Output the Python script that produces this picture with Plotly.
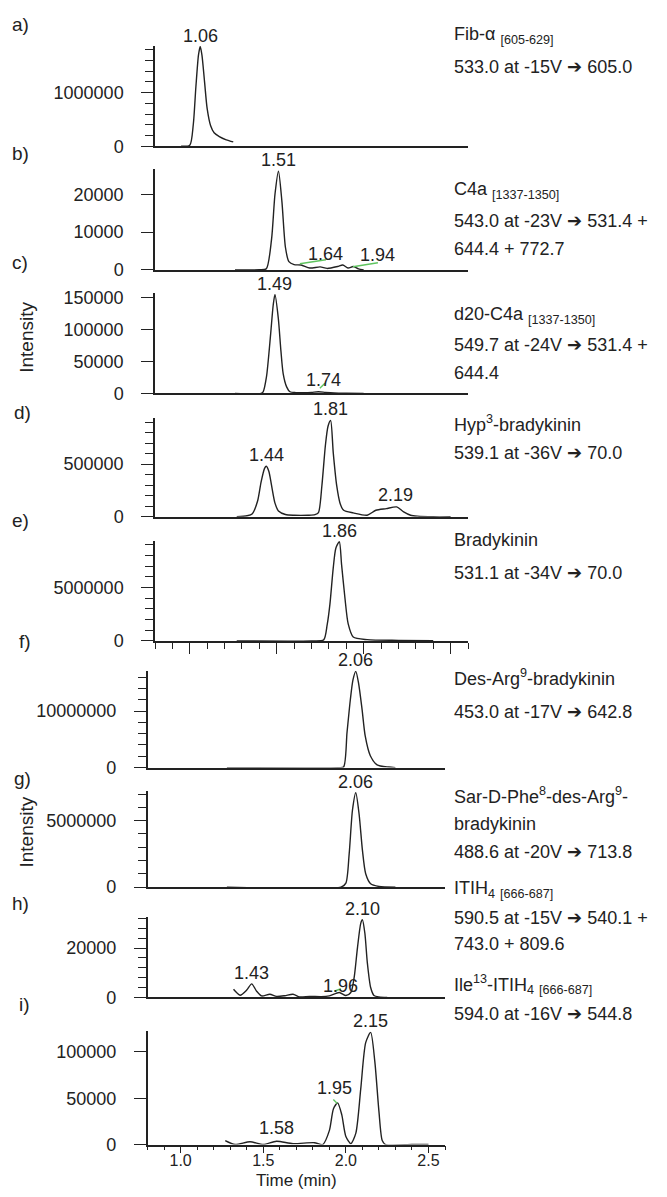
import plotly.graph_objects as go

W, H = 667, 1197
FONT = "Arial, 'Liberation Sans', Helvetica, sans-serif"
INK = "#222222"
GREEN = "#5fc45f"

# ---------------- data ----------------
A_TIME = [0.95, 1.00, 1.02, 1.035, 1.05, 1.06, 1.07, 1.085, 1.10, 1.12, 1.14, 1.17, 1.21, 1.25]
A_INT = [0, 20000, 400000, 1100000, 1700000, 1860000, 1700000, 1200000, 700000, 380000, 250000, 180000, 120000, 80000]

B_TIME = [1.26, 1.40, 1.44, 1.47, 1.49, 1.51, 1.53, 1.55, 1.57, 1.60, 1.64, 1.69, 1.75, 1.79, 1.85, 1.88, 1.91, 1.94, 1.97, 2.00]
B_INT = [0, 50, 300, 8000, 20000, 26100, 18000, 6000, 2200, 1400, 1300, 500, 800, 400, 900, 1300, 500, 900, 300, 0]

C_TIME = [1.26, 1.41, 1.422, 1.441, 1.465, 1.48, 1.49, 1.509, 1.524, 1.537, 1.557, 1.576, 1.61, 1.66, 1.70, 1.74, 1.78, 1.83, 1.90, 2.00]
C_INT = [0, 0, 2500, 25700, 93000, 139000, 155000, 118000, 67000, 31000, 10200, 2500, 1200, 1000, 1500, 2500, 1500, 600, 200, 0]

D_TIME = [1.27, 1.33, 1.36, 1.39, 1.41, 1.43, 1.44, 1.455, 1.47, 1.49, 1.51, 1.55, 1.60, 1.68, 1.72, 1.74, 1.76, 1.78, 1.795, 1.81,
          1.825, 1.845, 1.865, 1.885, 1.94, 2.02, 2.07, 2.13, 2.19, 2.23, 2.27, 2.31, 2.40, 2.50]
D_INT = [0, 10000, 30000, 150000, 330000, 460000, 480000, 430000, 300000, 130000, 55000, 22000, 15000, 15000, 20000, 40000, 300000,
         680000, 860000, 915000, 610000, 296000, 125000, 62000, 37000, 15000, 62000, 78000, 94000, 47000, 15000, 6000, 0, 0]

E_TIME = [1.27, 1.70, 1.77, 1.79, 1.806, 1.825, 1.84, 1.86, 1.873, 1.892, 1.911, 1.94, 2.02, 2.20, 2.40]
E_INT = [0, 0, 100000, 1500000, 3450000, 6850000, 8700000, 9300000, 7160000, 4070000, 1600000, 370000, 120000, 50000, 20000]

F_TIME = [1.28, 1.95, 1.986, 2.007, 2.027, 2.043, 2.06, 2.077, 2.098, 2.117, 2.148, 2.189, 2.26, 2.30]
F_INT = [0, 0, 100000, 6200000, 12000000, 15500000, 17000000, 14900000, 10300000, 5600000, 2100000, 500000, 100000, 0]

G_TIME = [1.28, 1.97, 2.00, 2.02, 2.04, 2.06, 2.08, 2.10, 2.12, 2.15, 2.20, 2.30]
G_INT = [0, 0, 300000, 2500000, 5800000, 7100000, 5500000, 2800000, 1000000, 250000, 50000, 0]

H_TIME = [1.32, 1.36, 1.40, 1.43, 1.46, 1.49, 1.54, 1.58, 1.63, 1.68, 1.72, 1.78, 1.85, 1.90, 1.96, 2.00, 2.03, 2.05, 2.07,
          2.09, 2.10, 2.115, 2.13, 2.15, 2.17, 2.20, 2.25]
H_INT = [3300, 900, 3000, 5500, 2500, 600, 1300, 400, 700, 1300, 200, 400, 300, 600, 2000, 800, 2000, 8000, 20000,
         30000, 31500, 26000, 14000, 4000, 800, 200, 0]

I_TIME = [1.27, 1.33, 1.42, 1.50, 1.58, 1.68, 1.81, 1.86, 1.90, 1.925, 1.95, 1.975, 2.00, 2.03, 2.06, 2.09, 2.12, 2.15,
          2.175, 2.20, 2.22, 2.24, 2.40, 2.50]
I_INT = [4300, 0, 3000, 0, 3500, 1000, 2000, 0, 15000, 38700, 45000, 32300, 8700, 1000, 12000, 60000, 110000, 121000,
         90000, 36000, 4300, 0, 0, 0]

PANEL_TAGS = ["a)", "b)", "c)", "d)", "e)", "f)", "g)", "h)", "i)"]

# main peak labels: (panel, retention time, intensity at apex)
PEAK_PANEL = [0, 1, 2, 3, 3, 4, 5, 6, 7, 8]
PEAK_TIME = [1.06, 1.51, 1.49, 1.44, 1.81, 1.86, 2.06, 2.06, 2.10, 2.15]
PEAK_INT = [1860000, 26100, 155000, 480000, 915000, 9300000, 17000000, 7100000, 31500, 121000]
PEAK_TEXT = ["1.06", "1.51", "1.49", "1.44", "1.81", "1.86", "2.06", "2.06", "2.10", "2.15"]

# minor peak labels (panel, label centre time, label centre intensity)
MINOR_PANEL = [1, 1, 2, 3, 7, 7, 8, 8]
MINOR_TEXT = ["1.64", "1.94", "1.74", "2.19", "1.43", "1.96", "1.58", "1.95"]
MINOR_TIME = [1.783, 2.079, 1.771, 2.185, 1.43, 1.966, 1.578, 1.93]
MINOR_INT = [4250, 4000, 20600, 204000, 9800, 4800, 18200, 60600]

# green baseline markers (panel, t0, t1, v0, v1)
GREEN_PANEL = [1, 1, 2, 7, 8]
GREEN_T0 = [1.633, 1.938, 1.748, 1.93, 1.924]
GREEN_T1 = [1.783, 2.082, 1.777, 1.97, 1.948]
GREEN_V0 = [1640, 860, 8200, 2500, 48500]
GREEN_V1 = [2690, 1900, 16000, 3500, 44400]

ARROW = "<span style='font-family:DejaVu Sans'>➔</span>"
RIGHT_TEXT = [
    ["Fib-α <sub>[605-629]</sub>", f"533.0 at -15V {ARROW} 605.0"],
    ["C4a <sub>[1337-1350]</sub>", f"543.0 at -23V {ARROW} 531.4 +", "644.4 + 772.7"],
    ["d20-C4a <sub>[1337-1350]</sub>", f"549.7 at -24V {ARROW} 531.4 +", "644.4"],
    ["Hyp<sup>3</sup>-bradykinin", f"539.1 at -36V {ARROW} 70.0"],
    ["Bradykinin", f"531.1 at -34V {ARROW} 70.0"],
    ["Des-Arg<sup>9</sup>-bradykinin", f"453.0 at -17V {ARROW} 642.8"],
    ["Sar-D-Phe<sup>8</sup>-des-Arg<sup>9</sup>-", "bradykinin", f"488.6 at -20V {ARROW} 713.8"],
    ["ITIH<sub>4</sub> <sub>[666-687]</sub>", f"590.5 at -15V {ARROW} 540.1 +", "743.0 + 809.6"],
    ["Ile<sup>13</sup>-ITIH<sub>4</sub> <sub>[666-687]</sub>", f"594.0 at -16V {ARROW} 544.8"],
]

YMAX = [1870000, 26600, 157000, 935000, 9400000, 17100000, 7200000, 32500, 122000]
YDTICK = [1000000, 10000, 50000, 500000, 5000000, 10000000, 5000000, 20000, 50000]
YMINOR = [200000, None, None, 100000, 1000000, 2000000, 1000000, 4000, None]

# ---------------- layout geometry (pixels) ----------------
ZERO_PX = [143, 268.3, 393.3, 518.3, 644, 772.3, 893.3, 1005, 1154]
TOP_PX = [41.5, 166.4, 291.9, 418.6, 542.5, 674.3, 796.4, 923.8, 1039.5]
TAG_PX = [(10, 20), (10, 150), (10, 261), (12, 413), (10, 522), (17, 645), (12, 783), (10, 910), (17, 1012)]
TEXT_Y_PX = [[30, 61], [187, 217, 246], [313, 343, 372], [423, 452], [541, 574], [680, 714],
             [800, 828, 856], [895, 923, 950], [991, 1020]]
X_TOP = (155, 468)
X_BOT = (147.6, 445)

series = [(A_TIME, A_INT), (B_TIME, B_INT), (C_TIME, C_INT), (D_TIME, D_INT), (E_TIME, E_INT),
          (F_TIME, F_INT), (G_TIME, G_INT), (H_TIME, H_INT), (I_TIME, I_INT)]


def ax_name(k, letter):
    return letter if k == 0 else f"{letter}{k + 1}"


fig = go.Figure()
for k, (t, v) in enumerate(series):
    fig.add_trace(go.Scatter(x=t, y=v, mode="lines", xaxis=ax_name(k, "x"), yaxis=ax_name(k, "y"),
                             line=dict(color=INK, width=1.4, shape="spline", smoothing=0.7),
                             showlegend=False, hoverinfo="skip"))

for p, t0, t1, v0, v1 in zip(GREEN_PANEL, GREEN_T0, GREEN_T1, GREEN_V0, GREEN_V1):
    fig.add_trace(go.Scatter(x=[t0, t1], y=[v0, v1], mode="lines", xaxis=ax_name(p, "x"), yaxis=ax_name(p, "y"),
                             line=dict(color=GREEN, width=1.4), showlegend=False, hoverinfo="skip"))

layout = dict(width=W, height=H, margin=dict(l=0, r=0, t=0, b=0), paper_bgcolor="white",
              plot_bgcolor="rgba(0,0,0,0)", font=dict(family=FONT, size=18, color=INK), showlegend=False)

for k in range(9):
    xd = X_TOP if k < 5 else X_BOT
    xkey = "xaxis" if k == 0 else f"xaxis{k + 1}"
    ykey = "yaxis" if k == 0 else f"yaxis{k + 1}"
    xa = dict(domain=[xd[0] / W, xd[1] / W], range=[0.8, 2.6], anchor=ax_name(k, "y"),
              showline=True, linecolor=INK, linewidth=1.5, showgrid=False, zeroline=False,
              showticklabels=False, ticks="")
    if k == 4:
        xa.update(ticks="outside", ticklen=11, tickwidth=1.3, tickcolor=INK, tick0=1.0, dtick=0.5,
                  minor=dict(ticks="outside", ticklen=6, tickwidth=1.3, tickcolor=INK, dtick=0.1, tick0=0.8))
    if k == 8:
        xa.update(ticks="outside", ticklen=7, tickwidth=1.3, tickcolor=INK, tick0=1.0, dtick=0.5,
                  minor=dict(ticks="outside", ticklen=4, tickwidth=1.3, tickcolor=INK, dtick=0.1, tick0=0.8),
                  showticklabels=True, tickformat=".1f", tickfont=dict(size=16, family=FONT, color=INK),
                  ticklabelstandoff=-6)
    layout[xkey] = xa
    ya = dict(domain=[1 - ZERO_PX[k] / H, 1 - TOP_PX[k] / H], range=[0, YMAX[k]], anchor=ax_name(k, "x"),
              showline=True, linecolor=INK, linewidth=1.5, showgrid=False, zeroline=False,
              ticks="outside", ticklen=12, tickwidth=1.3, tickcolor=INK, tick0=0, dtick=YDTICK[k],
              tickformat="d", tickfont=dict(size=18, family=FONT, color=INK), ticklabelstandoff=14)
    if YMINOR[k]:
        ya["minor"] = dict(ticks="outside", ticklen=8, tickwidth=1.3, tickcolor=INK, dtick=YMINOR[k], tick0=0)
    layout[ykey] = ya

ann = []
for k, tag in enumerate(PANEL_TAGS):
    x, y = TAG_PX[k]
    ann.append(dict(text=tag, xref="paper", yref="paper", x=x / W, y=1 - y / H, xanchor="left",
                    yanchor="middle", showarrow=False, font=dict(size=19)))
for ypx in (336, 837):
    ann.append(dict(text="Intensity", xref="paper", yref="paper", x=27 / W, y=1 - ypx / H, textangle=-90,
                    xanchor="center", yanchor="middle", showarrow=False, font=dict(size=19)))
ann.append(dict(text="Time (min)", xref="paper", yref="paper", x=(X_BOT[0] + X_BOT[1]) / 2 / W, y=0,
                xanchor="center", yanchor="bottom", yshift=-5, showarrow=False, font=dict(size=17)))
for k, lines in enumerate(RIGHT_TEXT):
    for line, ypx in zip(lines, TEXT_Y_PX[k]):
        ann.append(dict(text=line, xref="paper", yref="paper", x=452 / W, y=1 - (ypx + 1) / H,
                        xanchor="left", yanchor="middle", showarrow=False, font=dict(size=18)))
for p, t, v, txt in zip(PEAK_PANEL, PEAK_TIME, PEAK_INT, PEAK_TEXT):
    ann.append(dict(text=txt, xref=ax_name(p, "x"), yref=ax_name(p, "y"), x=t, y=v, xanchor="center",
                    yanchor="bottom", yshift=-1, showarrow=False, font=dict(size=18)))
for p, t, v, txt in zip(MINOR_PANEL, MINOR_TIME, MINOR_INT, MINOR_TEXT):
    ann.append(dict(text=txt, xref=ax_name(p, "x"), yref=ax_name(p, "y"), x=t, y=v, xanchor="center",
                    yanchor="middle", showarrow=False, font=dict(size=18)))
layout["annotations"] = ann

fig.update_layout(**layout)
fig.write_html("out.html", config={"displayModeBar": False},
               post_script="document.body.style.margin='0';document.body.style.overflow='hidden';")
